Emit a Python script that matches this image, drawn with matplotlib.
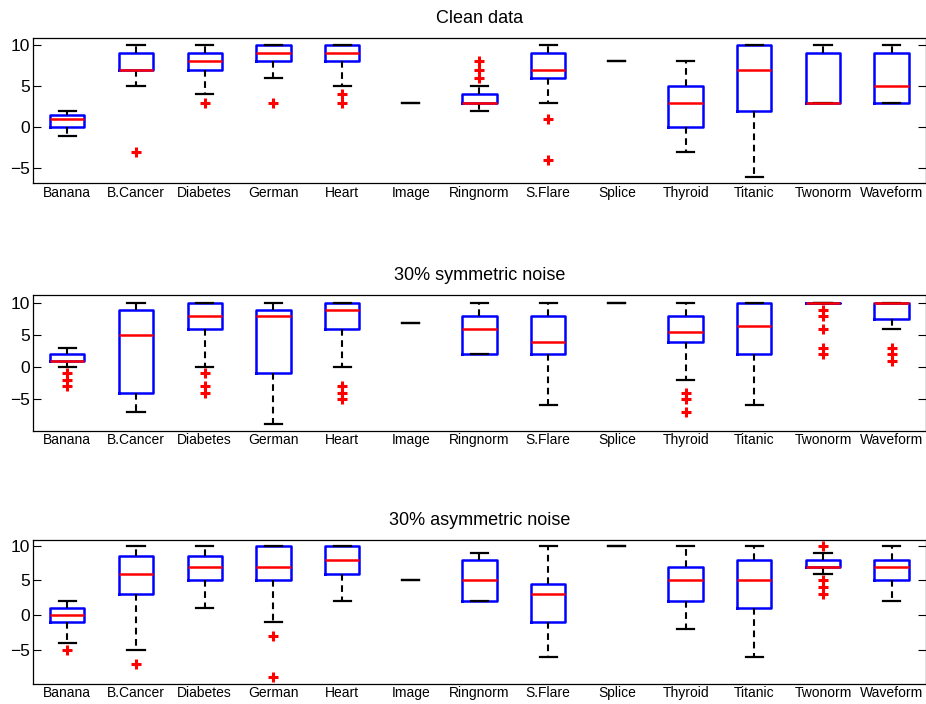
import matplotlib
matplotlib.use('Agg')
import matplotlib.pyplot as plt

plt.rcParams['font.family'] = ['Liberation Sans', 'DejaVu Sans']

# Dataset names (x tick labels)
datasets = ['Banana', 'B.Cancer', 'Diabetes', 'German', 'Heart', 'Image', 'Ringnorm',
            'S.Flare', 'Splice', 'Thyroid', 'Titanic', 'Twonorm', 'Waveform']

titles = ['Clean data', '30% symmetric noise', '30% asymmetric noise']

# Clean data: box statistics
clean_med = [1, 7, 8, 9, 9, 3, 3, 7, 8, 3, 7, 3, 5]
clean_q1 = [0, 7, 7, 8, 8, 3, 3, 6, 8, 0, 2, 3, 3]
clean_q3 = [1.5, 9, 9, 10, 10, 3, 4, 9, 8, 5, 10, 9, 9]
clean_lo = [-1, 5, 4, 6, 5, 3, 2, 3, 8, -3, -6, 3, 3]
clean_hi = [2, 10, 10, 10, 10, 3, 5, 10, 8, 8, 10, 10, 10]
clean_out = [[], [-3], [3], [3], [3, 4], [], [6, 7, 8], [1, -4], [], [], [], [], []]

# 30% symmetric noise
sym_med = [1, 5, 8, 8, 9, 7, 6, 4, 10, 5.5, 6.5, 10, 10]
sym_q1 = [1, -4, 6, -1, 6, 7, 2, 2, 10, 4, 2, 10, 7.5]
sym_q3 = [2, 9, 10, 9, 10, 7, 8, 8, 10, 8, 10, 10, 10]
sym_lo = [0, -7, 0, -9, 0, 7, 2, -6, 10, -2, -6, 10, 6]
sym_hi = [3, 10, 10, 10, 10, 7, 10, 10, 10, 10, 10, 10, 10]
sym_out = [[-1, -2, -3], [], [-1, -3, -4], [], [-3, -4, -5], [], [], [], [],
           [-4, -5, -7], [], [9, 8, 6, 3, 2], [3, 2, 1]]

# 30% asymmetric noise
asym_med = [0, 6, 7, 7, 8, 5, 5, 3, 10, 5, 5, 7, 7]
asym_q1 = [-1, 3, 5, 5, 6, 5, 2, -1, 10, 2, 1, 7, 5]
asym_q3 = [1, 8.5, 8.5, 10, 10, 5, 8, 4.5, 10, 7, 8, 8, 8]
asym_lo = [-4, -5, 1, -1, 2, 5, 2, -6, 10, -2, -6, 6, 2]
asym_hi = [2, 10, 10, 10, 10, 5, 9, 10, 10, 10, 10, 9, 10]
asym_out = [[-5], [-7], [], [-3, -9], [], [], [], [], [], [], [], [10, 5, 4, 3], []]

panels = [
    (clean_med, clean_q1, clean_q3, clean_lo, clean_hi, clean_out),
    (sym_med, sym_q1, sym_q3, sym_lo, sym_hi, sym_out),
    (asym_med, asym_q1, asym_q3, asym_lo, asym_hi, asym_out),
]

# axes placement (fractions of the figure) and y limits per panel
positions = [[0.0356, 0.7396, 0.9644, 0.2060],
             [0.0356, 0.3882, 0.9644, 0.1928],
             [0.0356, 0.0290, 0.9644, 0.2040]]
ylims = [(-6.8, 10.8), (-10, 11.33), (-9.9, 10.85)]

fig = plt.figure(figsize=(9.26, 7.04), dpi=100)

for k, (med, q1, q3, lo, hi, out) in enumerate(panels):
    ax = fig.add_axes(positions[k])
    stats = []
    for i in range(len(datasets)):
        stats.append(dict(med=med[i], q1=q1[i], q3=q3[i], whislo=lo[i],
                          whishi=hi[i], fliers=out[i], label=datasets[i]))
    bp = ax.bxp(stats, widths=0.5, capwidths=0.25, showfliers=True,
                boxprops=dict(color='#0000ff', linewidth=1.8),
                medianprops=dict(color='#ff0000', linewidth=1.8, zorder=4),
                whiskerprops=dict(color='black', linewidth=1.5, linestyle=(0, (3.2, 2.2))),
                capprops=dict(color='black', linewidth=1.6),
                flierprops=dict(marker='+', markeredgecolor='#ff0000',
                                markersize=6.5, markeredgewidth=2.2, linestyle='none'))
    # boxes with no spread are shown only by the black cap
    for i in range(len(datasets)):
        if q1[i] == q3[i] and lo[i] == hi[i] and len(out[i]) == 0:
            bp['boxes'][i].set_visible(False)
            bp['medians'][i].set_visible(False)

    ax.set_xlim(0.5, len(datasets) + 0.5)
    ax.set_ylim(*ylims[k])
    ax.set_yticks([-5, 0, 5, 10])
    ax.set_yticklabels(['\u22125', '0', '5', '10'])
    ax.tick_params(axis='y', direction='in', length=5.5, width=0.8,
                   right=True, labelsize=12.5, pad=2)
    ax.tick_params(axis='x', length=0, labelsize=10, pad=2)
    for s in ax.spines.values():
        s.set_linewidth(0.9)
    ax.set_title(titles[k], fontsize=13, pad=11)

fig.savefig('out.png', dpi=100)
